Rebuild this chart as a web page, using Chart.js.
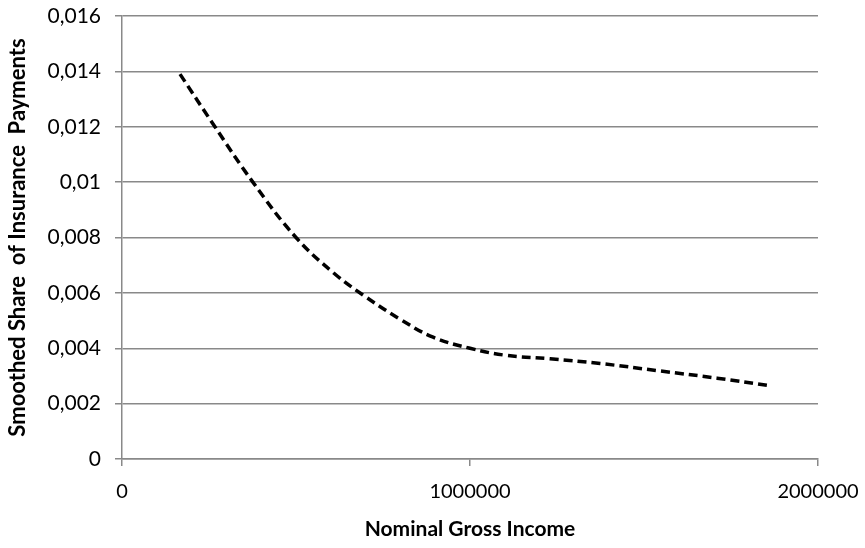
<!DOCTYPE html>
<html>
<head>
<meta charset="utf-8">
<script src="https://cdn.jsdelivr.net/npm/chart.js@4/dist/chart.umd.min.js"></script>
<style>
  html, body { margin: 0; padding: 0; background: #fff; }
</style>
</head>
<body>
<canvas id="myChart" width="865" height="548"></canvas>
<script>
// Data
const income = [166700, 267000, 376000, 500000, 610000, 693000, 799000, 894000,
  1000000, 1100000, 1230000, 1374000, 1546000, 1710000, 1865000];
const share = [0.0139, 0.0120, 0.0100, 0.0080, 0.0067, 0.00592, 0.00505, 0.0044,
  0.0040, 0.00375, 0.00362, 0.00345, 0.00318, 0.00292, 0.00264];
const xTicks = [0, 1000000, 2000000];
const yTicks = [0, 0.002, 0.004, 0.006, 0.008, 0.01, 0.012, 0.014, 0.016];

const points = income.map((x, i) => ({ x: x, y: share[i] }));
const gridGray = "#898989";

new Chart("myChart", {
  type: "scatter",
  data: {
    datasets: [
      {
        data: points,
        showLine: true,
        borderColor: "#000",
        borderWidth: 3.5,
        borderDash: [9, 5],
        tension: 0.4,
        pointRadius: 0,
        fill: false,
      },
    ],
  },
  options: {
    responsive: false,
    animation: false,
    layout: { padding: { top: 16, right: 47, left: 0, bottom: 0 } },
    plugins: { legend: { display: false }, tooltip: { enabled: false } },
    scales: {
      x: {
        type: "linear",
        min: xTicks[0],
        max: xTicks[xTicks.length - 1],
        afterBuildTicks: (s) => { s.ticks = xTicks.map((v) => ({ value: v })); },
        afterFit: (s) => { s.height = 89; s.paddingLeft = 0; s.paddingRight = 0; },
        grid: { drawOnChartArea: false, color: gridGray, tickLength: 7, lineWidth: 1.5 },
        border: { color: gridGray, width: 1.5 },
        ticks: {
          color: "#000",
          padding: 14,
          font: { family: "Lato", size: 20 },
          callback: (v) => String(v),
        },
        title: {
          display: true,
          text: "Nominal Gross Income",
          color: "#000",
          font: { family: "Lato", size: 21, weight: "bold" },
          padding: { top: 0, bottom: 6 },
        },
      },
      y: {
        type: "linear",
        min: yTicks[0],
        max: yTicks[yTicks.length - 1],
        afterBuildTicks: (s) => { s.ticks = yTicks.map((v) => ({ value: v })); },
        afterFit: (s) => { s.width = 122; s.paddingTop = 0; s.paddingBottom = 0; },
        grid: { color: gridGray, tickLength: 7, lineWidth: 1.5 },
        border: { color: gridGray, width: 1.5 },
        ticks: {
          color: "#000",
          padding: 14,
          font: { family: "Lato", size: 21 },
          callback: (v) => String(Number(v.toFixed(3))).replace(".", ","),
        },
        title: {
          display: true,
          text: "Smoothed Share  of Insurance  Payments",
          color: "#000",
          font: { family: "Lato", size: 22, weight: "bold" },
          padding: { top: 5, bottom: 0 },
        },
      },
    },
  },
});
</script>
</body>
</html>
